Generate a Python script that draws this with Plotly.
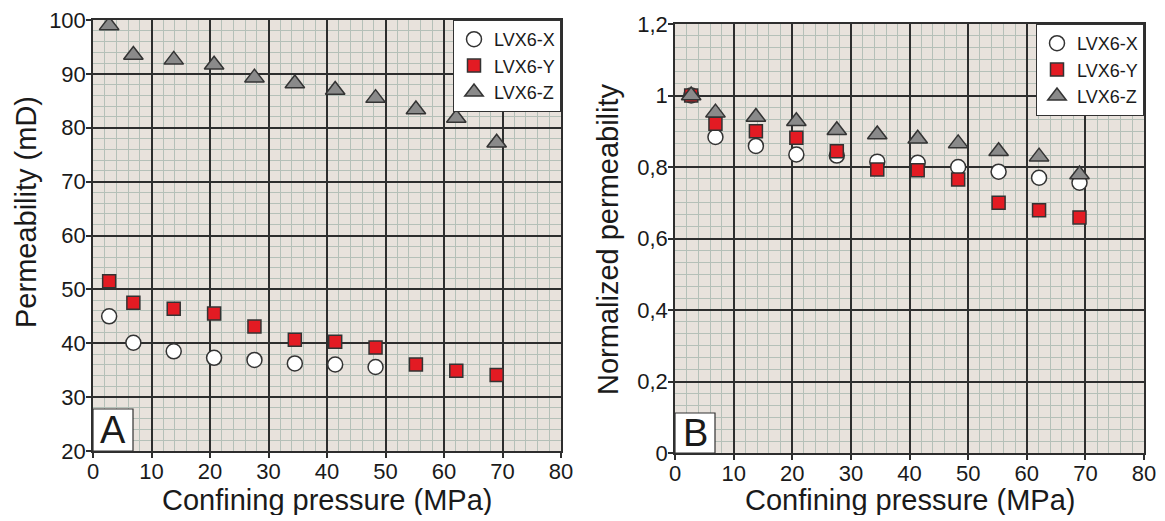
import plotly.graph_objects as go

# ---- data ----
pressure = [2.76, 6.9, 13.8, 20.7, 27.6, 34.5, 41.4, 48.3, 55.2, 62.1, 69.0]

perm_x = [45.0, 40.1, 38.5, 37.3, 36.9, 36.25, 36.05, 35.6]
perm_y = [51.5, 47.5, 46.4, 45.5, 43.1, 40.65, 40.3, 39.2, 36.05, 34.9, 34.1]
perm_z = [99.0, 93.5, 92.6, 91.7, 89.3, 88.2, 87.0, 85.5, 83.4, 81.8, 77.2]

norm_x = [1.0, 0.884, 0.859, 0.835, 0.832, 0.815, 0.812, 0.800, 0.787, 0.770, 0.756]
norm_y = [1.0, 0.921, 0.900, 0.882, 0.844, 0.793, 0.791, 0.765, 0.700, 0.679, 0.659]
norm_z = [1.0, 0.952, 0.940, 0.928, 0.903, 0.891, 0.879, 0.866, 0.844, 0.829, 0.779]

series_names = ["LVX6-X", "LVX6-Y", "LVX6-Z"]
x_ticks = [0, 10, 20, 30, 40, 50, 60, 70, 80]
a_ticks = [20, 30, 40, 50, 60, 70, 80, 90, 100]
b_ticks = [0, 0.2, 0.4, 0.6, 0.8, 1.0, 1.2]

x_title = "Confining pressure (MPa)"
a_title = "Permeability (mD)"
b_title = "Normalized permeability"

# ---- style ----
WIN_W, WIN_H = 1165, 521
OFF = 8  # default page body margin
W, H = WIN_W - OFF, WIN_H - OFF
FONT = "Liberation Sans, Arial, sans-serif"
BG = "#e8e2dc"
MINOR = "#b5c0b8"
MAJOR = "#2e2e2e"
EDGE = "#333333"
TXT = "#1a1a1a"


def px(xw):
    """window x pixel -> paper fraction"""
    return (xw - OFF) / W


def py(yw):
    """window y pixel (from top) -> paper fraction"""
    return 1 - (yw - OFF) / H


styles = [
    dict(symbol="circle", size=15, color="white", line=dict(color=EDGE, width=1.5)),
    dict(symbol="square", size=13, color="#e31b23", line=dict(color=EDGE, width=1.5)),
    dict(symbol="triangle-up", size=17, color="#8a8a8a", line=dict(color=EDGE, width=1.5)),
]

fig = go.Figure()

panel_a = [perm_x, perm_y, perm_z]
panel_b = [norm_x, norm_y, norm_z]
for name, vals, st in zip(series_names, panel_a, styles):
    fig.add_trace(go.Scatter(x=pressure[:len(vals)], y=vals, mode="markers", name=name,
                             marker=st, xaxis="x", yaxis="y", legend="legend"))
for name, vals, st in zip(series_names, panel_b, styles):
    fig.add_trace(go.Scatter(x=pressure[:len(vals)], y=vals, mode="markers", name=name,
                             marker=st, xaxis="x2", yaxis="y2", legend="legend2"))

common_axis = dict(showgrid=True, gridcolor=MAJOR, gridwidth=1.5,
                   showline=True, linecolor=MAJOR, linewidth=1.5, mirror=True,
                   ticks="outside", ticklen=5, tickcolor=MAJOR, tickwidth=1.5,
                   tickfont=dict(size=22, color=TXT, family=FONT),
                   ticklabeloverflow="allow",
                   zeroline=False, fixedrange=True, automargin=False)


def xaxis(domain, anchor):
    return dict(domain=domain, anchor=anchor, range=[0, 80], tickvals=x_ticks,
                minor=dict(dtick=2, tick0=0, showgrid=True, gridcolor=MINOR, gridwidth=1),
                ticklabelstandoff=-5, **common_axis)


def yaxis(domain, anchor, rng, ticks, minor_dtick):
    return dict(domain=domain, anchor=anchor, range=rng, tickvals=ticks,
                minor=dict(dtick=minor_dtick, tick0=0, showgrid=True, gridcolor=MINOR, gridwidth=1),
                ticklabelstandoff=-4, **common_axis)


ax_a = [px(93), px(561)]
ay_a = [py(451), py(20)]
ax_b = [px(675), px(1144)]
ay_b = [py(453), py(24)]

legend_common = dict(bgcolor="white", bordercolor=EDGE, borderwidth=1,
                     font=dict(size=18, color=TXT, family=FONT),
                     xanchor="right", yanchor="top", itemwidth=30,
                     tracegroupgap=0)

fig.update_layout(
    width=W, height=H,
    margin=dict(l=0, r=0, t=0, b=0),
    paper_bgcolor="white",
    plot_bgcolor=BG,
    separators=", ",
    font=dict(family=FONT, color=TXT),
    xaxis=xaxis(ax_a, "y"),
    yaxis=yaxis(ay_a, "x", [20, 100], a_ticks, 2),
    xaxis2=xaxis(ax_b, "y2"),
    yaxis2=yaxis(ay_b, "x2", [0, 1.2], b_ticks, 0.2 / 6),
    legend=dict(x=ax_a[1], y=ay_a[1], xref="paper", yref="paper", **legend_common),
    legend2=dict(x=ax_b[1], y=ay_b[1], xref="paper", yref="paper", **legend_common),
    showlegend=True,
)

# axis titles as paper-positioned annotations
title_font = dict(size=29, color=TXT, family=FONT)
for ax in (ax_a, ax_b):
    fig.add_annotation(xref="paper", yref="paper", x=sum(ax) / 2, y=py(500),
                       text=x_title, showarrow=False, font=title_font, height=30,
                       xanchor="center", yanchor="middle")
fig.add_annotation(xref="paper", yref="paper", x=px(26), y=py(212),
                   text=a_title, showarrow=False, font=title_font, textangle=-90,
                   xanchor="center", yanchor="middle")
fig.add_annotation(xref="paper", yref="paper", x=px(608), y=py(239),
                   text=b_title, showarrow=False, font=title_font, textangle=-90,
                   xanchor="center", yanchor="middle")

# Panel letters in white boxes
for xr, yr, letter, wfrac, hfrac in [("x", "y", "A", 40 / 468, 42 / 431),
                                     ("x2", "y2", "B", 40 / 469, 40 / 429)]:
    fig.add_shape(type="rect", xref=f"{xr} domain", yref=f"{yr} domain",
                  x0=0, x1=wfrac, y0=0, y1=hfrac,
                  fillcolor="white", line=dict(color=EDGE, width=1.2), layer="above")
    fig.add_annotation(xref=f"{xr} domain", yref=f"{yr} domain",
                       x=wfrac / 2, y=hfrac / 2, text=letter, showarrow=False,
                       font=dict(size=38, color=TXT, family=FONT),
                       xanchor="center", yanchor="middle")

fig.write_html("out.html")
